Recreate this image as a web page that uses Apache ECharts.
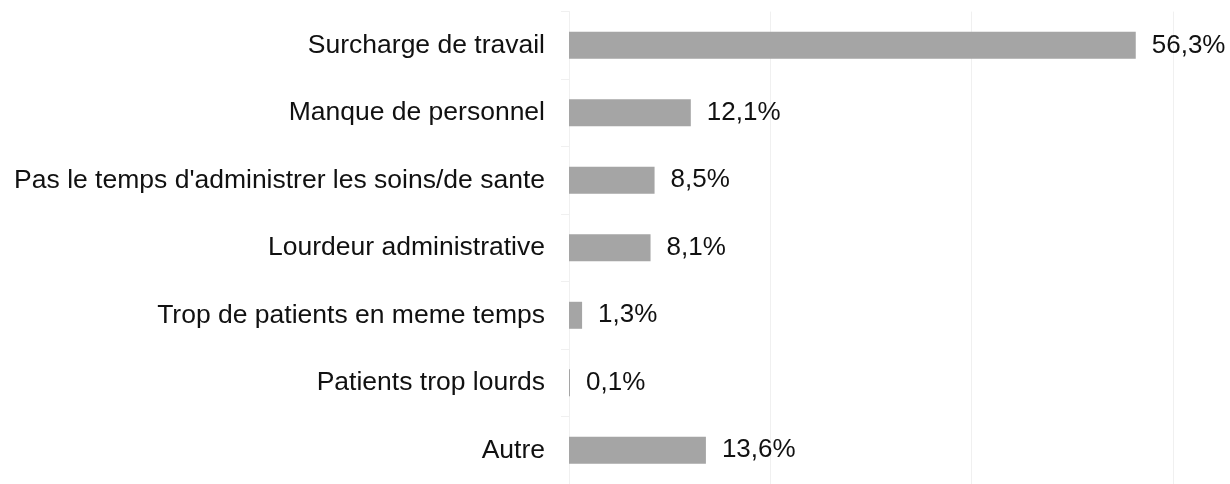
<!DOCTYPE html>
<html>
<head>
<meta charset="utf-8">
<script src="https://cdn.jsdelivr.net/npm/echarts@6/dist/echarts.min.js"></script>
<style>
	html, body { margin: 0; padding: 0; background: #fff; }
	#chart { width: 1230px; height: 484px; }
</style>
</head>
<body>
<div id="chart"></div>
<script>
const categories = [
	"Surcharge de travail",
	"Manque de personnel",
	"Pas le temps d'administrer les soins/de sante",
	"Lourdeur administrative",
	"Trop de patients en meme temps",
	"Patients trop lourds",
	"Autre",
];
const values = [56.3, 12.1, 8.5, 8.1, 1.3, 0.1, 13.6];

const textColour = "#111";
const fontFamily = "'Liberation Sans', Arial, sans-serif";

function createBarChart(inputID) {
	const chartDom = document.getElementById(inputID);
	if (chartDom == null) return;
	const myChart = echarts.init(chartDom);
	const option = {
		animation: false,
		grid: { left: 569, right: 57, top: 11.6, height: 475 },
		xAxis: {
			type: "value",
			min: 0,
			max: 60,
			interval: 20,
			axisLabel: { show: false },
			axisLine: { show: false },
			axisTick: { show: false },
			splitLine: { lineStyle: { color: "#f0f0f0", width: 1 } },
		},
		yAxis: {
			type: "category",
			inverse: true,
			data: categories,
			axisLine: { show: true, lineStyle: { color: "#f0f0f0" } },
			axisTick: { show: true, length: 8, lineStyle: { color: "#f0f0f0" } },
			axisLabel: {
				color: textColour,
				fontSize: 26.5,
				fontFamily: fontFamily,
				margin: 24,
			},
		},
		series: [
			{
				type: "bar",
				data: values,
				barWidth: 27,
				itemStyle: { color: "#a5a5a5" },
				label: {
					show: true,
					position: "right",
					distance: 16,
					color: textColour,
					fontSize: 26,
					fontFamily: fontFamily,
					formatter: (p) => p.value.toFixed(1).replace(".", ",") + "%",
				},
			},
		],
	};
	myChart.setOption(option);
	return myChart;
}

createBarChart("chart");
</script>
</body>
</html>
